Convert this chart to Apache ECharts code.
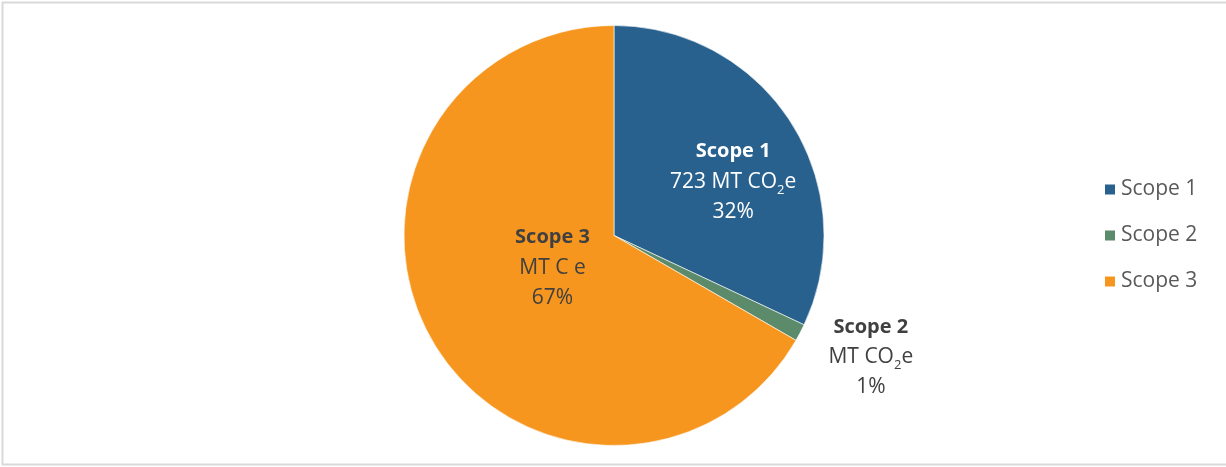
<!DOCTYPE html>
<html>
<head>
<meta charset="utf-8">
<script src="https://cdn.jsdelivr.net/npm/echarts@6/dist/echarts.min.js"></script>
<style>
html,body{margin:0;padding:0;background:#fff;}
#chart{width:1226px;height:467px;}
</style>
</head>
<body>
<div id="chart"></div>
<script>
// Data
var categories = ['Scope 1', 'Scope 2', 'Scope 3'];
var values = [723, 30, 1507];
var amountTexts = ['723 ', '', ''];
var colors = ['#28618E', '#5C8B6B', '#F7961E'];

var chart = echarts.init(document.getElementById('chart'), null, {renderer: 'canvas'});
var FONT = '"Open Sans", "Liberation Sans", sans-serif';

function labelFmt(p) {
  var i = p.dataIndex;
  var pct = Math.round(p.percent) + '%';
  var sfx = i === 0 ? 'w' : 'd';
  var line2;
  if (i === 2) {
    line2 = '{t' + sfx + '|MT C e}';
  } else {
    line2 = '{t' + sfx + '|' + amountTexts[i] + 'MT CO}{s' + sfx + '|2}{t' + sfx + '|e}';
  }
  return '{b' + sfx + '|' + p.name + '}\n' + line2 + '\n{t' + sfx + '|' + pct + '}';
}

var rich = {
  bw: {fontFamily: FONT, fontWeight: 'bold', fontSize: 20, color: '#ffffff', lineHeight: 30},
  tw: {fontFamily: FONT, fontSize: 21, color: '#ffffff', lineHeight: 30},
  sw: {fontFamily: FONT, fontSize: 13, color: '#ffffff', lineHeight: 30, verticalAlign: 'bottom', padding: [10, 0, 0, 0]},
  bd: {fontFamily: FONT, fontWeight: 'bold', fontSize: 20, color: '#404040', lineHeight: 30},
  td: {fontFamily: FONT, fontSize: 21, color: '#404040', lineHeight: 30},
  sd: {fontFamily: FONT, fontSize: 13, color: '#404040', lineHeight: 30, verticalAlign: 'bottom', padding: [10, 0, 0, 0]}
};

var labelOffsets = [[28, 4], [-20, 17], [32, -22]];

var data = categories.map(function (c, i) {
  var d = {name: c, value: values[i], itemStyle: {color: colors[i]}};
  if (i === 1) {
    d.label = {position: 'outside'};
    d.labelLine = {show: false};
  }
  return d;
});

chart.setOption({
  animation: false,
  backgroundColor: '#ffffff',
  graphic: [{
    type: 'rect',
    shape: {x: 2.5, y: 2.5, width: 1240, height: 462},
    style: {fill: 'none', stroke: '#D9D9D9', lineWidth: 2}
  }],
  legend: {
    orient: 'vertical',
    left: 1103,
    top: 179,
    padding: 0,
    itemWidth: 12,
    itemHeight: 12,
    itemGap: 25,
    icon: 'rect',
    data: categories,
    textStyle: {fontFamily: FONT, fontSize: 21, lineHeight: 20, color: '#595959'}
  },
  series: [{
    type: 'pie',
    center: [614, 235.5],
    radius: [0, 210],
    startAngle: 90,
    clockwise: true,
    avoidLabelOverlap: false,
    itemStyle: {borderColor: '#ffffff', borderWidth: 0.6},
    label: {
      show: true,
      position: 'inside',
      formatter: labelFmt,
      rich: rich,
      align: 'center'
    },
    labelLine: {show: false},
    labelLayout: function (params) {
      var o = labelOffsets[params.dataIndex];
      if (params.dataIndex === 1) {
        return {x: params.labelRect.x + params.labelRect.width / 2, y: params.labelRect.y + params.labelRect.height / 2, align: 'center', verticalAlign: 'middle', dx: o[0], dy: o[1]};
      }
      return {dx: o[0], dy: o[1]};
    },
    data: data
  }]
});
</script>
</body>
</html>
